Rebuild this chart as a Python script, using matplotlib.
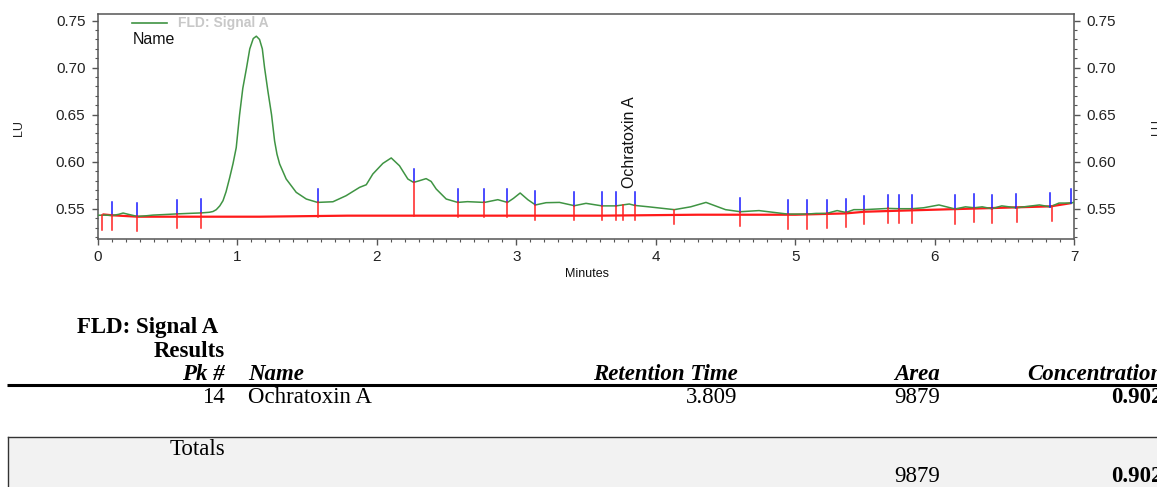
import numpy as np
import matplotlib
matplotlib.use("Agg")
import matplotlib.pyplot as plt
from matplotlib.ticker import MultipleLocator, FormatStrFormatter
from matplotlib.patches import Rectangle

# ---------------- data ----------------
trace_t = [0.00, 0.05, 0.105, 0.15, 0.182, 0.22, 0.284, 0.35, 0.396, 0.48, 0.571, 0.65, 0.74,
           0.80, 0.826, 0.85, 0.875, 0.898, 0.92, 0.946, 0.97, 0.993, 1.017, 1.04, 1.067, 1.09,
           1.115, 1.137, 1.16, 1.18, 1.196, 1.22, 1.246, 1.268, 1.285, 1.304, 1.351, 1.423,
           1.495, 1.576, 1.686, 1.78, 1.877, 1.925, 1.972, 2.044, 2.104, 2.163, 2.223, 2.264,
           2.30, 2.354, 2.39, 2.426, 2.498, 2.581, 2.65, 2.772, 2.868, 2.937, 2.98, 3.028,
           3.083, 3.138, 3.214, 3.31, 3.417, 3.50, 3.615, 3.715, 3.81, 3.849, 3.95, 4.133,
           4.25, 4.36, 4.50, 4.606, 4.74, 4.945, 5.084, 5.15, 5.225, 5.30, 5.363, 5.42, 5.494,
           5.666, 5.745, 5.836, 5.92, 6.03, 6.146, 6.22, 6.282, 6.34, 6.409, 6.48, 6.585,
           6.75, 6.827, 6.89, 6.979, 7.00]
trace_v = [0.5430, 0.5432, 0.5428, 0.5440, 0.5454, 0.5440, 0.5418, 0.5425, 0.5432, 0.5438,
           0.5445, 0.5450, 0.5455, 0.5462, 0.5470, 0.5490, 0.5530, 0.5585, 0.5680, 0.5830,
           0.5980, 0.6150, 0.6500, 0.6780, 0.7000, 0.7200, 0.7310, 0.7335, 0.7300, 0.7200,
           0.7000, 0.6750, 0.6500, 0.6220, 0.6080, 0.5976, 0.5816, 0.5674, 0.5603, 0.5567,
           0.5574, 0.5638, 0.5727, 0.5755, 0.5869, 0.5982, 0.6040, 0.5957, 0.5816, 0.5780,
           0.5795, 0.5820, 0.5790, 0.5710, 0.5603, 0.5567, 0.5575, 0.5567, 0.5596, 0.5567,
           0.5610, 0.5667, 0.5596, 0.5540, 0.5564, 0.5567, 0.5532, 0.5557, 0.5530, 0.5530,
           0.5550, 0.5535, 0.5520, 0.5490, 0.5520, 0.5567, 0.5490, 0.5468, 0.5480, 0.5443,
           0.5443, 0.5450, 0.5450, 0.5480, 0.5460, 0.5490, 0.5490, 0.5503, 0.5500, 0.5500,
           0.5510, 0.5540, 0.5497, 0.5520, 0.5510, 0.5520, 0.5500, 0.5530, 0.5510, 0.5540,
           0.5520, 0.5560, 0.5560, 0.5570]

baseline_t = [0.034, 0.105, 0.284, 1.16, 1.79, 3.60, 4.30, 5.00, 5.36, 5.50, 5.75, 6.15, 6.41, 6.83, 6.98]
baseline_v = [0.5440, 0.5430, 0.5415, 0.5415, 0.5426, 0.5426, 0.5436, 0.5436, 0.5450, 0.5468,
              0.5479, 0.5496, 0.5507, 0.5525, 0.5560]

start_end_marks = [0.105, 0.284, 0.571, 0.740, 1.576, 2.264, 2.581, 2.772, 2.937, 3.138, 3.417,
                   3.615, 3.715, 3.849, 4.606, 4.945, 5.084, 5.225, 5.363, 5.494, 5.666, 5.745,
                   5.836, 6.146, 6.282, 6.409, 6.585, 6.827, 6.979]
drop_marks = [0.034, 0.105, 0.284, 0.571, 0.740, 1.576, 2.264, 2.581, 2.772, 2.937, 3.138, 3.417,
              3.615, 3.715, 3.763, 3.849, 4.133, 4.606, 4.945, 5.084, 5.225, 5.363, 5.494, 5.666,
              5.745, 5.836, 6.146, 6.282, 6.409, 6.590, 6.840]

peak_name = "Ochratoxin A"
peak_rt = 3.809
signal_name = "FLD: Signal A"

x_ticks = [0, 1, 2, 3, 4, 5, 6, 7]
y_ticks = [0.55, 0.60, 0.65, 0.70, 0.75]

table_cols = ["Pk #", "Name", "Retention Time", "Area", "Concentration"]
row_pk = "14"
row_name = "Ochratoxin A"
row_rt = "3.809"
row_area = "9879"
row_conc = "0.902"
total_area = "9879"
total_conc = "0.902"

# ---------------- figure ----------------
W, H = 1157, 487
fig = plt.figure(figsize=(W / 100, H / 100), dpi=100)
plt.rcParams['font.family'] = ['Liberation Sans', 'DejaVu Sans']

ax = fig.add_axes([97.7 / W, 1 - 238.7 / H, 976.6 / W, 224.7 / H])
ax.set_facecolor('none')
ax.set_xlim(0, 7)
ax.set_ylim(0.5181, 0.7571)

green = '#3f9443'
ax.plot(trace_t, trace_v, color=green, lw=1.1, zorder=3)
ax.plot(baseline_t, baseline_v, color='#ff1a1a', lw=1.6, zorder=2, solid_capstyle='butt')

tick_len = 0.0145
for t in start_end_marks:
    y0 = np.interp(t, trace_t, trace_v)
    ax.plot([t, t], [y0, y0 + tick_len], color='#1a1aff', lw=1.1, zorder=4)
for t in drop_marks:
    y0 = np.interp(t, trace_t, trace_v)
    yb = np.interp(t, baseline_t, baseline_v)
    ax.plot([t, t], [y0, min(y0 - 0.0155, yb)], color='#ff2020', lw=1.1, zorder=4)

ax.text(peak_rt, 0.5715, peak_name, rotation=90, ha='center', va='bottom', fontsize=11.5,
        color='#111111')

ax.set_xticks(x_ticks)
ax.set_yticks(y_ticks)
ax.xaxis.set_minor_locator(MultipleLocator(0.1))
ax.yaxis.set_minor_locator(MultipleLocator(0.01))
ax.yaxis.set_major_formatter(FormatStrFormatter('%.2f'))
ax.tick_params(which='both', direction='out', color='#555555', labelcolor='#222222',
               right=True, labelright=True, top=False)
ax.tick_params(which='major', length=4.3, width=1.0, labelsize=11)
ax.tick_params(axis='y', which='major', pad=4.5)
ax.tick_params(axis='x', which='major', pad=3.5)
ax.tick_params(which='minor', length=2.2, width=0.8)
for s in ax.spines.values():
    s.set_color('#555555')
    s.set_linewidth(1.1)

# ---------------- overlay in pixel coordinates ----------------
bg = fig.add_axes([0, 0, 1, 1])
bg.set_xlim(0, W)
bg.set_ylim(H, 0)
bg.axis('off')

# legend
bg.plot([132, 167], [23, 23], color=green, lw=1.2)
bg.text(178, 23.5, signal_name, fontsize=10, fontweight='bold', color='#c8c8c8', va='center')
bg.text(133, 39.5, "Name", fontsize=11.5, color='#111111', va='center')

bg.text(19, 128, "LU", rotation=90, fontsize=9, ha='center', va='center', color='#222222')
bg.text(1157, 127, "LU", rotation=90, fontsize=9, ha='center', va='center', color='#222222',
        clip_on=False)
bg.text(586.5, 274, "Minutes", fontsize=9, ha='center', va='center', color='#111111')

# table
serif = ['Liberation Serif', 'DejaVu Serif']
fs = 16.5
bg.text(218, 333, signal_name, family=serif, fontsize=fs, fontweight='bold', ha='right', va='baseline')
bg.text(225, 357, "Results", family=serif, fontsize=fs, fontweight='bold', ha='right', va='baseline')

hdr_y = 380.5
bg.text(225, hdr_y, table_cols[0], family=serif, fontsize=fs, fontweight='bold', style='italic', ha='right', va='baseline')
bg.text(248, hdr_y, table_cols[1], family=serif, fontsize=fs, fontweight='bold', style='italic', ha='left', va='baseline')
bg.text(738, hdr_y, table_cols[2], family=serif, fontsize=fs, fontweight='bold', style='italic', ha='right', va='baseline')
bg.text(940, hdr_y, table_cols[3], family=serif, fontsize=fs, fontweight='bold', style='italic', ha='right', va='baseline')
bg.text(1163, hdr_y, table_cols[4], family=serif, fontsize=fs, fontweight='bold', style='italic', ha='right', va='baseline')

bg.plot([7, W], [385, 385], color='black', lw=2.2, solid_capstyle='butt')

row_y = 403
bg.text(225, row_y, row_pk, family=serif, fontsize=fs, ha='right', va='baseline')
bg.text(248, row_y, row_name, family=serif, fontsize=fs, ha='left', va='baseline')
bg.text(737, row_y, row_rt, family=serif, fontsize=fs, ha='right', va='baseline')
bg.text(940, row_y, row_area, family=serif, fontsize=fs, ha='right', va='baseline')
bg.text(1163, row_y, row_conc, family=serif, fontsize=fs, fontweight='bold', ha='right', va='baseline')

bg.add_patch(Rectangle((8, 436.5), W - 8, H - 436.5, facecolor='#f2f2f2', edgecolor='none', zorder=0))
bg.plot([8, W], [436.5, 436.5], color='#333333', lw=1.0)
bg.plot([8, 8], [436.5, H], color='#333333', lw=1.0)

bg.text(225, 455, "Totals", family=serif, fontsize=fs, ha='right', va='baseline')
bg.text(940, 482, total_area, family=serif, fontsize=fs, ha='right', va='baseline')
bg.text(1163, 482, total_conc, family=serif, fontsize=fs, fontweight='bold', ha='right', va='baseline')

fig.savefig("out.png", dpi=100)
